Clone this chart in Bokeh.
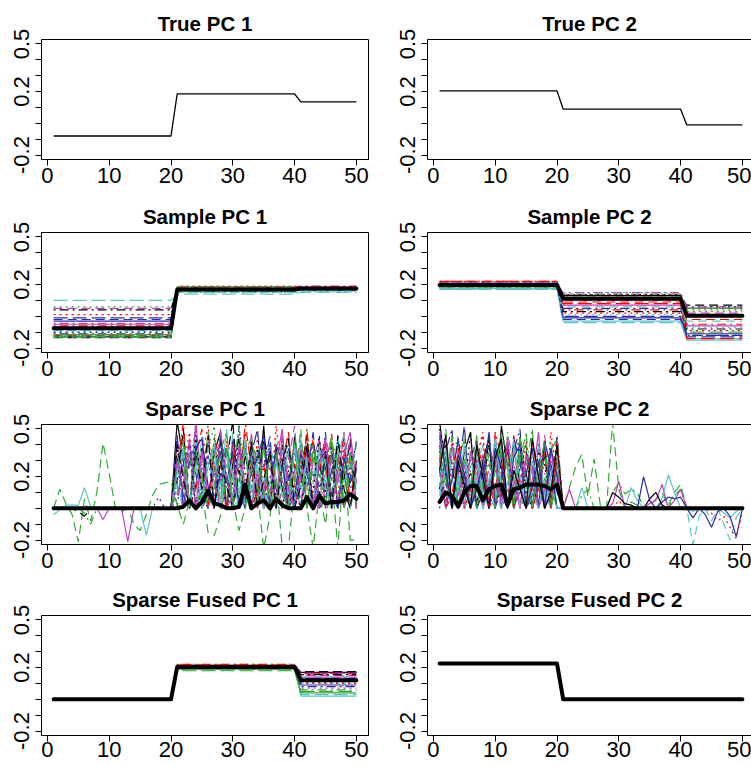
from bokeh.plotting import figure
from bokeh.layouts import gridplot
from bokeh.models import FixedTicker, Range1d, LinearAxis
from bokeh.embed import file_html
from bokeh.resources import INLINE

# ---------------- data ----------------
x = list(range(1, 51))
block_sizes = [20, 20, 10]          # variables 1-20, 21-40, 41-50

true_pc1_levels = [-0.080, 0.185, 0.135]
true_pc2_levels = [0.204, 0.089, -0.010]

# sample PCs: per-replicate block levels (x 1-20, 21-40, 41-50)
sample_pc1_levels = [
    (-0.130, 0.165, 0.175), (-0.120, 0.185, 0.180), (0.060, 0.150, 0.155), (-0.110, 0.170, 0.170),
    (0.100, 0.140, 0.150), (-0.050, 0.175, 0.180), (-0.135, 0.180, 0.175), (0.010, 0.190, 0.185),
    (-0.125, 0.155, 0.165), (-0.010, 0.160, 0.170), (-0.080, 0.170, 0.160), (0.050, 0.165, 0.175),
    (-0.100, 0.175, 0.180), (-0.060, 0.185, 0.190), (-0.130, 0.160, 0.170), (-0.030, 0.170, 0.165),
    (-0.090, 0.150, 0.160), (-0.120, 0.180, 0.185), (0.040, 0.175, 0.170), (-0.070, 0.165, 0.180),
    (-0.115, 0.185, 0.175), (-0.020, 0.170, 0.180), (-0.135, 0.160, 0.170), (-0.045, 0.180, 0.185),
]
sample_pc1_mean = (-0.076, 0.169, 0.175)

sample_pc2_levels = [
    (0.200, 0.130, 0.050), (0.220, 0.090, -0.020), (0.190, 0.150, 0.030), (0.180, 0.050, -0.120),
    (0.170, -0.040, -0.140), (0.210, 0.070, -0.060), (0.190, 0.120, 0.070), (0.215, 0.020, -0.090),
    (0.185, 0.140, 0.000), (0.205, 0.000, -0.130), (0.175, -0.030, -0.150), (0.200, 0.100, 0.020),
    (0.190, 0.135, 0.060), (0.220, 0.040, -0.050), (0.180, 0.110, -0.100), (0.200, -0.010, -0.110),
    (0.170, 0.060, -0.030), (0.210, 0.140, 0.040), (0.195, 0.030, -0.080), (0.200, 0.080, -0.140),
    (0.185, 0.120, 0.050), (0.210, -0.020, -0.120), (0.180, 0.010, -0.070), (0.200, 0.150, 0.060),
]
sample_pc2_mean = (0.198, 0.110, 0.004)

fused_pc1_levels = [
    (0, 0.210, 0.170), (0, 0.200, 0.160), (0, 0.220, 0.120), (0, 0.190, 0.080),
    (0, 0.185, 0.030), (0, 0.215, 0.140), (0, 0.205, 0.175), (0, 0.195, 0.100),
    (0, 0.210, 0.060), (0, 0.200, 0.130), (0, 0.215, 0.020), (0, 0.190, 0.150),
    (0, 0.200, 0.110), (0, 0.220, 0.165), (0, 0.180, 0.050), (0, 0.200, 0.090),
    (0, 0.210, 0.140), (0, 0.195, 0.070), (0, 0.205, 0.155), (0, 0.215, 0.120),
    (0, 0.190, 0.040), (0, 0.200, 0.170), (0, 0.210, 0.100), (0, 0.200, 0.135),
]
fused_pc1_mean = (0.0, 0.204, 0.120)
fused_pc2_mean = (0.225, 0.0, 0.0)

# sparse PC 1: replicates, values in hundredths for variables 21..50 (1..20 are zero)
sp1_clutter = [
    [55, 30, 0, 40, 22, 0, 35, 48, 0, 28, 44, 0, 30, 8, 52, 0, 38, 12, 0, 45, 18, 33, 0, 41, 25, 0, 36, 22, 0, 30],
    [20, 45, 0, 33, 50, 0, 27, 0, 42, 31, 0, 55, 24, 0, 16, 35, 0, 29, 48, 0, 38, 11, 44, 0, 15, 47, 0, 34, 28, 0],
    [35, 0, 42, 25, 0, 38, 52, 0, 14, 33, 47, 0, 26, 40, 0, 5, 44, 30, 0, 36, 0, 50, 17, 0, 39, 27, 0, 42, 31, 0],
    [0, 38, 25, 50, 0, 8, 20, 44, 0, 15, 28, 40, 0, 33, 24, 46, 0, 38, 20, 0, 42, 28, 0, 18, 48, 0, 30, 24, 40, 0],
    [28, 0, 36, 10, 45, 0, 12, 34, 0, 48, 8, 0, 38, 16, 0, 42, 20, 0, 36, 25, 0, 40, 29, 0, 33, 21, 45, 0, 26, 38],
    [42, 22, 0, 55, 12, 0, 40, 18, 0, 8, 36, 0, 47, 14, 0, 10, 28, 50, 0, 24, 38, 0, 30, 44, 0, 35, 16, 48, 0, 25],
    [18, 50, 0, 14, 38, 0, 8, 42, 30, 55, 0, 34, 12, 0, 44, 30, 0, 40, 8, 0, 22, 46, 0, 28, 10, 40, 0, 18, 44, 0],
    [8, 26, 48, 0, 32, 52, 0, 28, 40, 0, 38, 24, 0, 46, 10, 0, 52, 22, 0, 14, 28, 42, 0, 36, 16, 0, 8, 40, 22, 0],
    [30, 42, 0, 36, 14, 0, 46, 10, 0, 20, 52, 0, 40, 22, 0, 14, 36, 0, 44, 18, 0, 30, 40, 0, 26, 46, 0, 10, 36, 0],
    [46, 0, 30, 22, 0, 10, 24, 36, 0, 44, 20, 0, 34, 50, 0, 38, 12, 0, 16, 40, 0, 20, 48, 0, 6, 24, 38, 0, 18, 42],
    [24, 34, 0, 44, 20, 0, 30, 14, 50, 0, 6, 42, 0, 36, 12, 0, 28, 16, 38, 0, 44, 14, 0, 40, 22, 0, 34, 46, 0, 16],
    [14, 0, 40, 6, 0, 44, 18, 0, 24, 38, 0, 12, 28, 0, 40, 24, 0, 10, 30, 52, 0, 36, 22, 0, 44, 30, 0, 28, 42, 0],
    [38, 20, 0, 46, 8, 0, 36, 24, 0, 16, 40, 0, 14, 38, 0, 20, 8, 0, 24, 12, 0, 26, 10, 46, 0, 18, 42, 0, 30, 38],
    [26, 54, 0, 12, 36, 0, 44, 30, 0, 40, 22, 48, 0, 10, 28, 0, 32, 16, 0, 28, 12, 50, 0, 24, 40, 0, 28, 44, 0, 30],
    [10, 22, 34, 0, 16, 48, 26, 6, 38, 0, 18, 36, 44, 28, 8, 34, 0, 46, 12, 32, 26, 0, 38, 20, 30, 42, 12, 0, 34, 10],
    [32, 8, 0, 38, 44, 14, 0, 22, 16, 36, 0, 6, 22, 32, 46, 0, 40, 30, 0, 8, 34, 24, 0, 30, 36, 8, 0, 32, 16, 26],
    [16, 0, 6, 26, 0, 34, 10, 0, 28, 6, 34, 0, 16, 0, 20, 8, 0, 36, 10, 0, 20, 32, 0, 16, 12, 0, 22, 8, 0, 18],
    [6, 18, 0, 16, 28, 0, 22, 12, 0, 22, 10, 0, 8, 18, 0, 12, 20, 0, 28, 14, 0, 22, 16, 0, 18, 6, 12, 0, 10, 8],
]
# sparse PC 1: replicates with visible excursions (all 50 variables, hundredths)
sp1_special = [
    [0, 12, 3, -4, -21, 6, -8, 10, 41, 22, 0, -2, 0, -10, -14, -4, 8, 15, 16, 17,
     2, -10, 5, 0, 10, -15, -17, -5, 20, 5, -14, 0, 30, 10, -25, -5, 20, -25, -25, 15,
     50, 0, -25, 10, -10, 20, -25, 30, -20, -20],
    [-4, -1, 2, 2, 2, 13, 1, 0, 0, 0, 0, 0, 0, 0, 0, -17, 0, 0, 0, 0,
     22, 38, 0, 30, 8, 26, 40, 0, 34, 20, 0, 44, 10, 28, 0, 16, 30, 8, 0, 40,
     12, 30, 0, 36, 14, 0, 38, 16, 28, 22],
    [0, 0, 0, 0, 0, 0, 0, 0, -7, 0, 0, 0, -21, 0, 0, 0, 0, 0, 0, 0,
     30, 12, 44, 0, 36, 8, 0, 50, 18, 0, 40, 14, 0, 22, 10, 38, 0, 46, 12, 0,
     20, 36, 0, 28, 44, 0, 24, 34, 48, 16],
    [0, 0, 0, 0, 0, 0, 0, 0, 0, 0, 0, 0, 0, 0, 0, 0, 0, 7, 0, 0,
     16, 28, 40, 0, 10, 34, 0, 44, 18, 0, 52, 20, 0, 12, 28, 40, 0, 24, 38, 0,
     30, 22, 0, 14, 26, 36, 0, 32, 12, 24],
    [0, 0, 0, 0, -2, -5, 0, 0, 0, 0, 0, 0, 0, 0, 0, 0, 0, 0, 0, 0,
     40, 18, 0, 34, 12, 46, 0, 30, 14, 0, 24, 8, 42, 0, 18, 36, 0, 28, 44, 0,
     14, 40, 0, 8, 34, 0, 46, 12, 0, 28],
    [0, 0, 0, 0, 0, -3, -10, 0, 0, 0, 0, 0, 0, 0, 0, 0, 0, 0, 0, 0,
     26, 44, 0, 32, 20, 0, 14, 36, 48, 0, 26, 38, 0, 8, 40, 0, 34, 14, 0, 46,
     22, 0, 36, 26, 0, 42, 30, 0, 24, 40],
]
sp1_special_col = [2, 4, 5, 3, 0, 2]
sp1_special_dash = [1, 0, 0, 2, 1, 3]
sp1_mean = [0] * 20 + [0, 1, 5, 0, 4, 11, 3, 2, 0, 0, 1, 15, 0, 3, 5, 0, 6, 2, 0, 0,
                       0, 7, 0, 8, 3, 4, 4, 5, 9, 6]

# sparse PC 2: replicates, values in hundredths for variables 1..20 (21..50 are zero)
sp2_clutter = [
    [55, 20, 0, 12, 35, 48, 0, 30, 44, 0, 52, 26, 0, 38, 22, 0, 14, 34, 0, 40],
    [30, 45, 0, 38, 22, 0, 42, 26, 0, 12, 34, 0, 46, 16, 0, 28, 10, 44, 0, 36],
    [42, 0, 30, 46, 0, 36, 24, 0, 38, 28, 0, 48, 22, 0, 8, 30, 0, 18, 26, 0],
    [0, 36, 50, 0, 8, 30, 44, 0, 14, 42, 0, 10, 36, 50, 0, 12, 38, 0, 8, 46],
    [26, 0, 22, 34, 0, 14, 28, 40, 0, 6, 38, 0, 16, 24, 44, 0, 20, 10, 42, 0],
    [48, 30, 0, 8, 28, 0, 18, 34, 0, 46, 10, 0, 40, 12, 0, 18, 48, 0, 36, 14],
    [12, 40, 28, 0, 14, 22, 0, 10, 44, 0, 30, 42, 0, 28, 36, 0, 16, 40, 0, 32],
    [36, 0, 44, 16, 0, 10, 32, 48, 0, 30, 22, 0, 34, 44, 0, 40, 26, 0, 48, 20],
    [22, 50, 0, 30, 20, 0, 12, 26, 36, 0, 48, 34, 0, 10, 26, 50, 0, 20, 14, 0],
    [40, 16, 0, 22, 52, 0, 40, 14, 0, 38, 8, 0, 44, 30, 0, 8, 22, 0, 28, 10],
    [8, 28, 20, 0, 30, 16, 0, 22, 8, 0, 40, 26, 0, 38, 18, 0, 40, 8, 0, 24],
    [30, 0, 38, 14, 0, 34, 20, 0, 28, 12, 0, 46, 30, 0, 34, 14, 0, 46, 18, 0],
    [50, 34, 0, 28, 10, 48, 0, 30, 40, 0, 14, 36, 0, 46, 10, 0, 36, 28, 0, 16],
    [16, 0, 8, 36, 42, 0, 30, 16, 0, 48, 32, 0, 42, 8, 0, 44, 18, 0, 10, 30],
    [34, 14, 46, 0, 32, 12, 46, 0, 16, 26, 44, 0, 16, 32, 40, 0, 28, 14, 36, 44],
    [24, 0, 18, 44, 16, 0, 14, 20, 48, 0, 20, 40, 0, 14, 22, 38, 0, 42, 26, 0],
    [10, 24, 0, 20, 0, 8, 22, 0, 18, 28, 0, 16, 20, 0, 12, 18, 24, 0, 16, 22],
    [44, 0, 30, 18, 0, 24, 0, 8, 24, 0, 36, 8, 0, 18, 30, 0, 42, 22, 0, 28],
]
sp2_special = [
    [38, 20, 0, 12, 30, 26, 0, 16, 34, 0, 40, 22, 0, 46, 14, 0, 24, 42, 0, 30,
     0, 13, 26, 34, 8, 31, 2, 0, 54, 12, 0, 4, 2, 0, 0, 6, 10, 2, 10, 15,
     0, 0, 0, 0, 0, 0, 0, 0, 0, 0],
    [20, 34, 0, 28, 44, 0, 30, 12, 0, 24, 16, 36, 0, 30, 48, 0, 12, 34, 0, 16,
     0, 0, 0, 8, 12, 0, 0, 0, 10, 16, 9, 12, 10, 0, 0, 0, 0, 0, 8, 12,
     0, 0, 0, 0, 0, 0, 0, 0, 0, 0],
    [32, 0, 40, 22, 0, 36, 26, 0, 14, 30, 0, 42, 18, 0, 34, 26, 0, 12, 30, 22,
     0, 12, 0, 0, 0, 0, 0, 0, 3, 17, 0, 0, 0, 0, 3, 5, 15, 0, 5, 12,
     0, 0, 0, 0, 0, 0, 0, 0, 0, 0],
    [14, 38, 0, 12, 40, 0, 34, 8, 0, 44, 12, 0, 38, 20, 0, 30, 18, 0, 22, 34,
     0, 0, 0, 13, 0, 0, 0, 0, 0, 0, 0, 13, 5, 0, 0, 0, 6, 21, 10, 0,
     0, -2, 0, -1, 0, 0, -3, -6, -2, 0],
    [28, 0, 36, 20, 0, 30, 16, 0, 22, 12, 0, 18, 44, 0, 16, 8, 0, 20, 14, 0,
     0, 0, 0, 0, 0, 0, 0, 0, 0, 0, 0, 0, 0, 0, 0, 0, 0, 0, 0, 0,
     0, -23, -5, 0, -8, 0, -10, -20, -6, 0],
    [46, 24, 0, 34, 22, 0, 12, 28, 0, 38, 26, 0, 32, 40, 0, 14, 30, 0, 38, 20,
     0, 0, 0, 0, 0, 0, 0, 0, 0, 0, 0, 0, 0, 20, 5, 0, 4, 7, 6, 7,
     0, -6, 0, -4, -12, -2, 0, -5, -18, 0],
    [24, 46, 0, 30, 14, 0, 40, 20, 0, 32, 44, 0, 24, 12, 0, 44, 20, 0, 10, 40,
     0, 0, 0, 0, 0, 0, 0, 0, 10, 7, 3, 2, 0, 0, 6, 10, 2, 0, 0, 0,
     0, 0, 0, 0, 0, 0, 0, 0, 0, 0],
    [36, 0, 26, 40, 0, 12, 30, 46, 0, 16, 8, 38, 0, 16, 42, 0, 12, 36, 0, 44,
     0, 0, 0, 0, 0, 0, 0, 0, 0, 5, 0, 0, 0, 0, 0, 0, 0, 0, 0, 0,
     0, 0, 0, 0, -3, -8, -5, -12, -19, -2],
]
sp2_special_col = [2, 2, 5, 4, 4, 3, 0, 1]
sp2_special_dash = [1, 3, 0, 0, 1, 0, 0, 2]
sp2_mean = [4, 10, 8, 1, 10, 14, 14, 5, 12, 14, 15, 2, 12, 13, 15, 15, 15, 14, 12, 15] + [0] * 30

panel_titles = ["True PC 1", "True PC 2", "Sample PC 1", "Sample PC 2",
                "Sparse PC 1", "Sparse PC 2", "Sparse Fused PC 1", "Sparse Fused PC 2"]
x_ticks = [0, 10, 20, 30, 40, 50]
y_major = [-0.2, 0.2, 0.5]
y_minor = [-0.1, 0.0, 0.1, 0.3, 0.4]
y_labels = {-0.2: "-0.2", 0.2: "0.2", 0.5: "0.5"}

# ---------------- styling ----------------
PAL = ["#000000", "#FF0000", "#33AA33", "#2B2BA6", "#5BC5CC", "#C23FBF"]
DASHES = ["solid", "9 5", "2 4", "2 4 9 4", "14 5"]
FONT = "Liberation Sans"


def expand(levels):
    out = []
    for lv, n in zip(levels, block_sizes):
        out += [lv] * n
    return out


def hund(vals):
    return [v / 100.0 for v in vals]


ROW_H = [192, 193, 192, 189]
ROW_TOP = [39, 40, 39, 38]
X_STANDOFF = [2, 2, 2, 0]
FRAME_H = 120


def make_panel(idx):
    r, c = divmod(idx, 2)
    right = c == 1
    W = 365 if right else 386
    H = ROW_H[r]
    p = figure(width=W, height=H,
               x_range=Range1d(-0.96, 51.47 if right else 51.96),
               y_range=Range1d(-0.228, 0.528),
               output_backend="svg", toolbar_location=None, title=panel_titles[idx],
               min_border_left=41,
               min_border_right=0 if right else 18,
               min_border_top=ROW_TOP[r],
               min_border_bottom=H - ROW_TOP[r] - FRAME_H)
    p.background_fill_color = "white"
    p.border_fill_color = "white"
    p.xgrid.visible = False
    p.ygrid.visible = False
    if right:
        # the right-hand panels run past the page edge: box without its right side
        p.outline_line_color = None
        top_edge = LinearAxis(ticker=FixedTicker(ticks=[]), major_tick_out=0, major_tick_in=0,
                              minor_tick_line_color=None, major_label_text_font_size="0px",
                              major_label_standoff=0, axis_line_color="black")
        p.add_layout(top_edge, "above")
    else:
        p.outline_line_color = "black"
        p.outline_line_width = 1
    t = p.title
    t.align = "center"
    t.text_font = FONT
    t.text_font_size = "20.5px"
    t.text_font_style = "bold"
    t.text_color = "black"
    t.standoff = 10
    xa = p.below[0]
    xa.ticker = FixedTicker(ticks=x_ticks)
    xa.major_tick_out = 6
    xa.major_tick_in = 0
    xa.minor_tick_line_color = None
    xa.major_tick_line_color = "black"
    xa.axis_line_color = "black"
    xa.major_label_text_font = FONT
    xa.major_label_text_font_size = "22px"
    xa.major_label_text_color = "black"
    xa.major_label_standoff = X_STANDOFF[r]
    ya = p.yaxis[0]
    ya.ticker = FixedTicker(ticks=y_major, minor_ticks=y_minor)
    ya.major_tick_out = 6
    ya.major_tick_in = 0
    ya.minor_tick_out = 6
    ya.minor_tick_in = 0
    ya.minor_tick_line_color = "black"
    ya.major_tick_line_color = "black"
    ya.axis_line_color = "black"
    ya.major_label_overrides = y_labels
    ya.major_label_orientation = "vertical"
    ya.major_label_text_font = FONT
    ya.major_label_text_font_size = "22px"
    ya.major_label_text_color = "black"
    ya.major_label_standoff = 6
    return p


def thin(p, ys, i, col=None, dash=None):
    p.line(x, ys, line_color=PAL[i % 6 if col is None else col],
           line_dash=DASHES[i % 5 if dash is None else dash], line_width=1.2)


def thick(p, ys):
    p.line(x, ys, line_color="black", line_width=4, line_join="round", line_cap="round")


panels = [make_panel(i) for i in range(8)]

# True PCs
panels[0].line(x, expand(true_pc1_levels), line_color="black", line_width=1.3)
panels[1].line(x, expand(true_pc2_levels), line_color="black", line_width=1.3)

# Sample PCs
for i, lv in enumerate(sample_pc1_levels):
    thin(panels[2], expand(lv), i)
thick(panels[2], expand(sample_pc1_mean))
for i, lv in enumerate(sample_pc2_levels):
    thin(panels[3], expand(lv), i)
thick(panels[3], expand(sample_pc2_mean))

# Sparse PCs
for i, v in enumerate(sp1_clutter):
    thin(panels[4], [0.0] * 20 + hund(v), i)
for v, cidx, didx in zip(sp1_special, sp1_special_col, sp1_special_dash):
    thin(panels[4], hund(v), 0, cidx, didx)
thick(panels[4], hund(sp1_mean))

for i, v in enumerate(sp2_clutter):
    thin(panels[5], hund(v) + [0.0] * 30, i)
for v, cidx, didx in zip(sp2_special, sp2_special_col, sp2_special_dash):
    thin(panels[5], hund(v), 0, cidx, didx)
thick(panels[5], hund(sp2_mean))

# Sparse fused PCs
for i, lv in enumerate(fused_pc1_levels):
    thin(panels[6], expand(lv), i)
thick(panels[6], expand(fused_pc1_mean))
thick(panels[7], expand(fused_pc2_mean))

grid = gridplot([[panels[0], panels[1]], [panels[2], panels[3]],
                 [panels[4], panels[5]], [panels[6], panels[7]]],
                toolbar_location=None)

open("out.html", "w").write(file_html(grid, INLINE))
